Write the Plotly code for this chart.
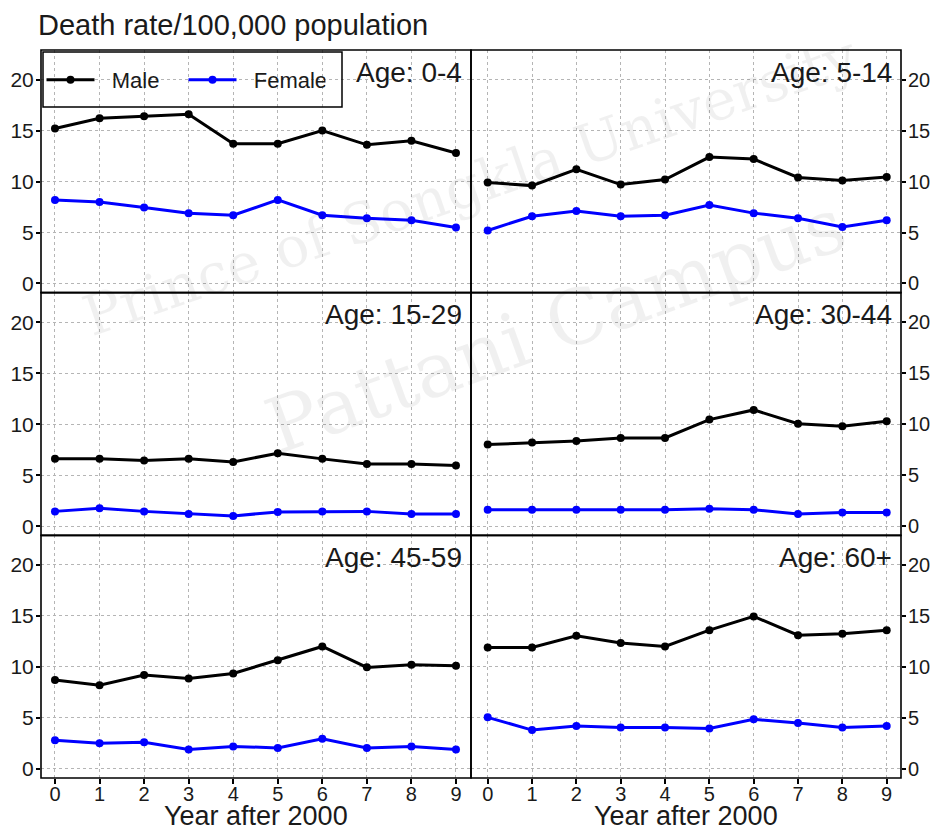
import plotly.graph_objects as go
from plotly.subplots import make_subplots

years = list(range(10))
age_groups = ["0-4", "5-14", "15-29", "30-44", "45-59", "60+"]

male_0_4 = [15.2, 16.2, 16.4, 16.6, 13.7, 13.7, 15.0, 13.6, 14.0, 12.8]
female_0_4 = [8.2, 8.0, 7.45, 6.9, 6.7, 8.2, 6.7, 6.4, 6.2, 5.5]
male_5_14 = [9.9, 9.6, 11.2, 9.7, 10.2, 12.4, 12.2, 10.4, 10.1, 10.45]
female_5_14 = [5.2, 6.6, 7.1, 6.6, 6.7, 7.7, 6.9, 6.4, 5.55, 6.2]
male_15_29 = [6.6, 6.6, 6.45, 6.6, 6.3, 7.15, 6.6, 6.1, 6.1, 5.95]
female_15_29 = [1.45, 1.75, 1.45, 1.2, 1.0, 1.4, 1.45, 1.45, 1.2, 1.2]
male_30_44 = [8.0, 8.2, 8.35, 8.65, 8.65, 10.45, 11.4, 10.05, 9.8, 10.3]
female_30_44 = [1.6, 1.6, 1.6, 1.6, 1.6, 1.7, 1.6, 1.2, 1.35, 1.35]
male_45_59 = [8.7, 8.2, 9.2, 8.85, 9.35, 10.65, 12.0, 9.95, 10.2, 10.1]
female_45_59 = [2.8, 2.5, 2.6, 1.9, 2.2, 2.05, 2.95, 2.05, 2.2, 1.9]
male_60 = [11.9, 11.9, 13.05, 12.35, 12.0, 13.6, 14.95, 13.1, 13.25, 13.6]
female_60 = [5.05, 3.8, 4.2, 4.05, 4.05, 3.95, 4.85, 4.5, 4.05, 4.2]

males = [male_0_4, male_5_14, male_15_29, male_30_44, male_45_59, male_60]
females = [female_0_4, female_5_14, female_15_29, female_30_44, female_45_59, female_60]

y_ticks = [0, 5, 10, 15, 20]

FONT = "Liberation Sans, Arial, sans-serif"
TXT = "#1a1a1a"
W, H = 931, 832
ML, MR, MT, MB = 41, 30, 50, 54
PW, PH = W - ML - MR, H - MT - MB
NB = "\u00a0"


def px_x(p):
    return (p - ML) / PW


def px_y(p):
    return (H - MB - p) / PH


fig = make_subplots(rows=3, cols=2, horizontal_spacing=0, vertical_spacing=0)

for i, ag in enumerate(age_groups):
    r = i // 2 + 1
    c = i % 2 + 1
    fig.add_trace(go.Scatter(x=years, y=males[i], mode="lines+markers", name=NB * 2 + "Male",
                             line=dict(color="black", width=3), marker=dict(size=8, color="black"),
                             showlegend=(i == 0), legendgroup="m"), row=r, col=c)
    fig.add_trace(go.Scatter(x=years, y=females[i], mode="lines+markers", name=NB * 2 + "Female",
                             line=dict(color="#0000ff", width=3), marker=dict(size=8, color="#0000ff"),
                             showlegend=(i == 0), legendgroup="f"), row=r, col=c)
    sfx = "" if i == 0 else str(i + 1)
    fig.add_annotation(text="Age: " + ag, xref=f"x{sfx} domain", yref=f"y{sfx} domain",
                       x=0.981, y=1 - 22 / (PH / 3), xanchor="right", yanchor="middle",
                       showarrow=False, borderpad=0,
                       font=dict(family=FONT, size=28, color=TXT))
    # panel border
    fig.add_shape(type="rect", xref=f"x{sfx} domain", yref=f"y{sfx} domain",
                  x0=0, x1=1, y0=0, y1=1, line=dict(color="black", width=1.6),
                  fillcolor="rgba(0,0,0,0)", layer="above")
    xr = [-0.314, 9.337] if c == 1 else [-0.377, 9.323]
    fig.update_xaxes(row=r, col=c, range=xr, tickvals=years,
                     showticklabels=(r == 3), ticks="outside" if r == 3 else "",
                     ticklen=5, tickcolor="black", tickwidth=1.5,
                     ticklabelstandoff=-7,
                     showgrid=True, gridcolor="#b5b5b5", griddash="dot", gridwidth=1,
                     showline=False, zeroline=False, automargin=False,
                     tickfont=dict(family=FONT, size=20, color=TXT))
    fig.update_yaxes(row=r, col=c, range=[-0.9, 22.9], tickvals=y_ticks,
                     side="left" if c == 1 else "right",
                     ticks="outside", ticklen=4, tickcolor="black", tickwidth=1.5,
                     ticklabelstandoff=-2,
                     showgrid=True, gridcolor="#b5b5b5", griddash="dot", gridwidth=1,
                     showline=False, zeroline=False, automargin=False,
                     tickfont=dict(family=FONT, size=21 if c == 1 else 20, color=TXT))

# x-axis titles
for cx in [(41 + 471) / 2, (471 + 901) / 2]:
    fig.add_annotation(text="Year after 2000", xref="paper", yref="paper",
                       x=px_x(cx), y=px_y(832), xanchor="center", yanchor="bottom",
                       showarrow=False, borderpad=0,
                       font=dict(family=FONT, size=27, color=TXT))

# watermark
fig.add_annotation(text="Prince of Songkla University", xref="paper", yref="paper",
                   x=px_x(470), y=px_y(185), xanchor="center", yanchor="middle",
                   textangle=-19, showarrow=False,
                   font=dict(family="DejaVu Serif", size=56, color="rgba(0,0,0,0.06)"))
fig.add_annotation(text="Pattani Campus", xref="paper", yref="paper",
                   x=px_x(555), y=px_y(325), xanchor="center", yanchor="middle",
                   textangle=-20, showarrow=False,
                   font=dict(family="DejaVu Serif", size=76, color="rgba(0,0,0,0.06)"))

# legend box
fig.add_shape(type="rect", xref="paper", yref="paper",
              x0=px_x(43), x1=px_x(342), y0=px_y(107), y1=px_y(52),
              line=dict(color="black", width=1.5), fillcolor="rgba(0,0,0,0)", layer="above")

fig.update_layout(
    width=W, height=H,
    margin=dict(l=ML, r=MR, t=MT, b=MB),
    paper_bgcolor="white", plot_bgcolor="white",
    title=dict(text="Death rate/100,000 population", x=38 / W, xanchor="left",
               y=1 - 25 / H, yanchor="middle", font=dict(family=FONT, size=29, color=TXT)),
    legend=dict(orientation="h", x=px_x(41.5), y=px_y(80), xanchor="left", yanchor="middle",
                xref="paper", yref="paper", bgcolor="rgba(0,0,0,0)", borderwidth=0,
                font=dict(family=FONT, size=22, color=TXT), entrywidth=79, itemwidth=48),
    font=dict(family=FONT),
)

fig.write_html("out.html", config={"displayModeBar": False},
               post_script="document.body.style.margin='0px';document.body.style.overflow='hidden';")
